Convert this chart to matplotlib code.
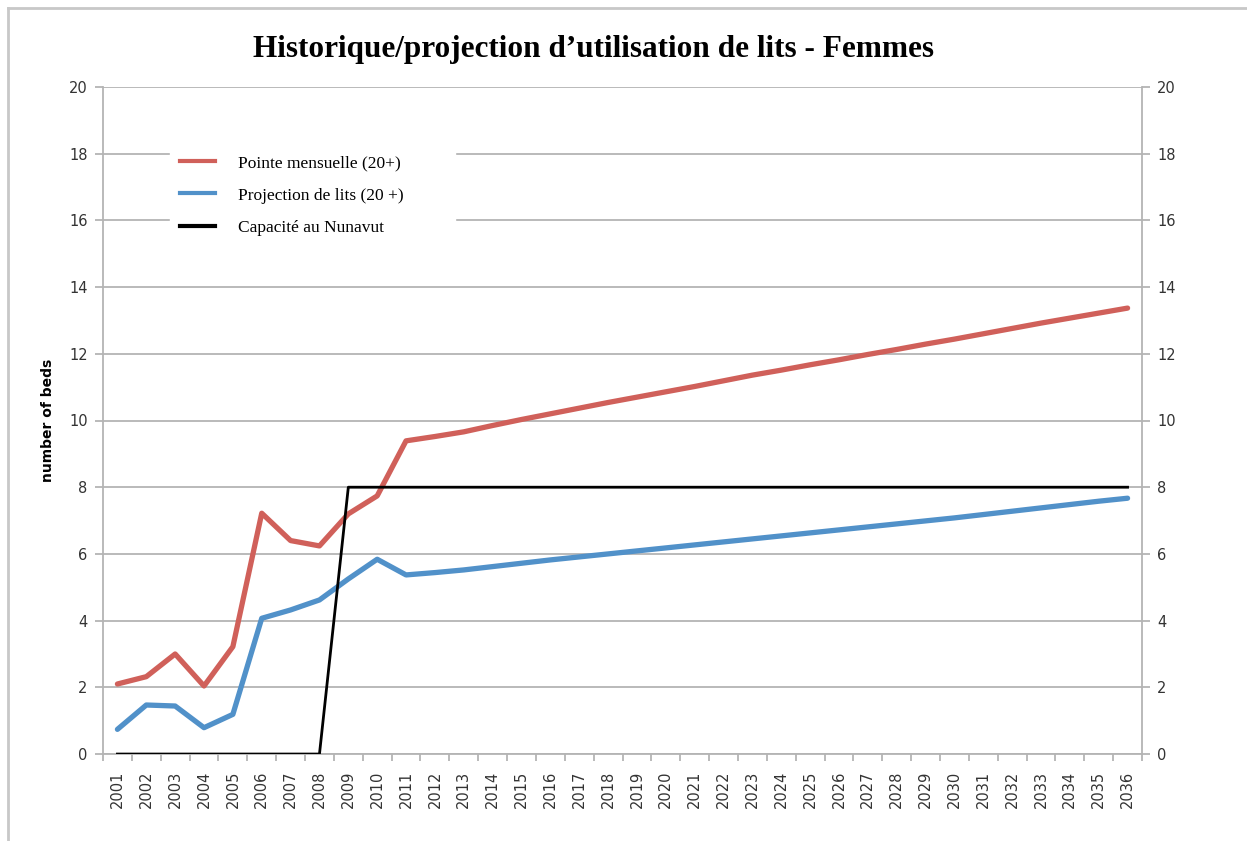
import matplotlib.pyplot as plt
from matplotlib.lines import Line2D

years = [str(y) for y in range(2001, 2037)]

pointe_mensuelle = [2.1, 2.32, 3.0, 2.04, 3.22, 7.22, 6.4, 6.24, 7.2, 7.74,
                    9.39, 9.52, 9.66, 9.85, 10.03, 10.2, 10.37, 10.54, 10.7, 10.86,
                    11.02, 11.19, 11.36, 11.51, 11.67, 11.82, 11.98, 12.13, 12.29, 12.44,
                    12.6, 12.76, 12.92, 13.07, 13.22, 13.37]

projection_lits = [0.74, 1.47, 1.44, 0.79, 1.19, 4.07, 4.32, 4.62, 5.25, 5.84,
                   5.37, 5.44, 5.52, 5.62, 5.72, 5.82, 5.91, 6.0, 6.09, 6.18,
                   6.27, 6.36, 6.45, 6.54, 6.63, 6.72, 6.81, 6.9, 6.99, 7.08,
                   7.18, 7.28, 7.38, 7.48, 7.58, 7.67]

capacite = [0, 0, 0, 0, 0, 0, 0, 0] + [8] * 28

labels = ["Pointe mensuelle (20+)", "Projection de lits (20 +)", "Capacité au Nunavut"]

red = "#D0605A"
blue = "#5191C9"
grid_col = "#b4b4b4"

fig = plt.figure(figsize=(12.47, 8.41), dpi=100)
ax = fig.add_axes([0.0826, 0.1034, 0.8332, 0.7932])

x = list(range(len(years)))
ax.plot(x, pointe_mensuelle, color=red, lw=3.8, solid_capstyle="round", zorder=3)
ax.plot(x, projection_lits, color=blue, lw=3.8, solid_capstyle="round", zorder=3)
ax.plot(x, capacite, color="black", lw=2.0, zorder=4)

ax.set_xlim(-0.5, len(years) - 0.5)
ax.set_ylim(0, 20)
ax.set_yticks(range(0, 21, 2))
ax.yaxis.grid(True, color=grid_col, lw=1.3)
ax.set_axisbelow(True)

ax.set_xticks(x)
ax.set_xticklabels(years, rotation=90, fontsize=10.5, color="#333333")
ax.set_xticks([i - 0.5 for i in range(len(years) + 1)], minor=True)
ax.tick_params(axis="x", which="major", length=0, pad=12)
ax.tick_params(axis="x", which="minor", length=5, color=grid_col, width=1.3, direction="out")
ax.tick_params(axis="y", length=6, color=grid_col, width=1.3, labelsize=10.5,
               labelcolor="#333333", pad=5, left=True, right=True,
               labelleft=True, labelright=True)

for s in ["left", "right", "bottom"]:
    ax.spines[s].set_color(grid_col)
    ax.spines[s].set_linewidth(1.3)
ax.spines["top"].set_visible(False)

ax.set_ylabel("number of beds", fontsize=10, fontweight="bold", labelpad=10)

handles = [Line2D([], [], color=red, lw=3),
           Line2D([], [], color=blue, lw=3),
           Line2D([], [], color="black", lw=3)]
leg = ax.legend(handles, labels, loc="upper left",
                bbox_to_anchor=(0.0645, 0.904, 0.274, 0.01), mode="expand",
                frameon=True, fancybox=False, edgecolor="white", facecolor="white",
                framealpha=1, handlelength=2.0, handletextpad=1.3, labelspacing=0.95,
                borderpad=0.6, borderaxespad=0,
                prop={"family": "Liberation Serif", "size": 12.5})

fig.text(0.476, 0.941, "Historique/projection d\u2019utilisation de lits - Femmes",
         ha="center", va="center", fontsize=22.5, fontweight="bold",
         family="Liberation Serif")

# outer frame of the original chart
fig.add_artist(Line2D([0.0064, 0.0064], [0, 0.991], color="#c8c8c8", lw=2,
                      transform=fig.transFigure))
fig.add_artist(Line2D([0.0064, 1.0], [0.991, 0.991], color="#c8c8c8", lw=2,
                      transform=fig.transFigure))

fig.savefig("out.png", dpi=100)
